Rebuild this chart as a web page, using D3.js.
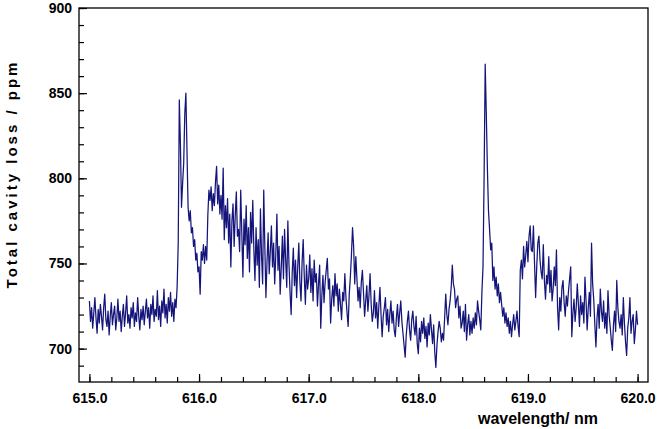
<!DOCTYPE html>
<html>
<head>
<meta charset="utf-8">
<script src="https://cdn.jsdelivr.net/npm/d3@7"></script>
<style>
body { margin: 0; background: #fff; }
svg { display: block; }
text { font-family: "Liberation Sans", Arial, sans-serif; font-weight: bold; fill: #000; }
</style>
</head>
<body>
<svg width="661" height="429"></svg>
<script>
// wavelength grid: 615.00 .. 620.00 nm, step 0.01 nm
var startWl = 615.0, stepWl = 0.01;

// total cavity loss (ppm) in 0.5 nm chunks
var loss615a = [728,716,724,712,721,730,718,709,723,715, 726,719,711,724,732,717,713,722,708,719,
	727,714,720,725,711,718,729,716,722,710, 719,726,713,721,731,715,720,712,724,718,
	727,713,721,716,730,719,711,723,717,725];
var loss615b = [714,722,729,718,724,712,726,720,731,716, 723,719,734,717,725,713,728,721,735,718,
	726,715,730,722,733,719,727,716,729,724, 736,762,846,820,783,797,809,838,850,816,
	783,775,781,768,771,760,764,752,756,745];
var loss616a = [748,732,757,752,761,750,760,752,778,793, 787,795,781,791,784,798,807,785,796,779,
	790,776,806,764,784,771,788,762,779,748, 775,785,760,778,792,766,770,757,793,768,
	742,776,761,784,753,771,745,780,762,787];
var loss616b = [758,740,771,749,764,736,782,755,738,793, 760,730,751,768,744,757,772,748,762,738,
	755,779,746,760,732,748,766,741,770,752, 736,775,750,733,720,745,759,737,752,730,
	748,762,739,728,751,764,742,726,749,735];
var loss617a = [741,755,733,747,728,752,739,744,725,738, 749,712,731,743,727,739,746,753,735,741,
	715,729,737,725,744,731,738,722,735,726, 717,733,728,744,730,721,713,732,742,755,
	771,760,738,754,741,728,736,724,739,746];
var loss617b = [733,719,728,737,722,731,744,726,716,721, 734,718,727,712,725,736,720,707,719,724,
	730,714,723,710,720,728,715,722,711,707, 718,726,713,721,728,716,709,702,695,708,
	716,722,711,705,717,722,713,708,719,703];
var loss618a = [697,712,704,716,709,718,706,713,701,715, 708,720,711,703,714,698,689,702,710,716,
	712,704,709,705,718,732,720,714,723,728, 736,749,738,735,724,729,731,718,725,712,
	715,722,710,726,705,714,720,708,716,709];
var loss618b = [718,712,721,714,728,722,717,711,733,748, 800,867,838,806,781,770,758,762,740,748,
	735,742,731,738,727,733,726,719,724,715, 721,713,718,709,716,707,714,720,711,716,
	722,713,707,746,752,741,760,748,755,763];
var loss619a = [751,766,772,758,757,772,750,730,748,762, 766,752,745,741,761,740,729,743,738,754,
	733,746,728,735,748,737,758,724,711,730, 722,736,740,727,719,731,725,734,741,748,
	707,721,729,716,724,738,726,713,731,720];
var loss619b = [727,715,742,728,711,724,733,719,762,738, 729,714,701,718,726,712,735,722,716,728,
	712,721,709,734,720,713,705,699,714,722, 710,740,724,716,712,720,708,730,715,704,
	696,712,718,730,709,716,720,703,711,722, 714];

var xTicks = [615.0, 616.0, 617.0, 618.0, 619.0, 620.0];
var yTicks = [700, 750, 800, 850, 900];

var lossAll = [].concat(loss615a, loss615b, loss616a, loss616b, loss617a,
	loss617b, loss618a, loss618b, loss619a, loss619b);
var data = lossAll.map(function (v, i) {
	return { wl: startWl + i * stepWl, loss: v };
});

var svgWidth = 661, svgHeight = 429;
var margin = { top: 8, right: 13, bottom: 47, left: 79 },
	width = svgWidth - margin.left - margin.right,
	height = svgHeight - margin.top - margin.bottom;

var xScale = d3.scaleLinear()
	.domain([614.905, 620.095])
	.range([0, width]);

var yScale = d3.scaleLinear()
	.domain([680.4, 900])
	.range([height, 0]);

var svg = d3.select("svg")
	.append("g").attr("transform", "translate(" + margin.left + "," + margin.top + ")");

// minor ticks first, majors on top
svg.append("g")
	.attr("transform", "translate(0," + height + ")")
	.call(d3.axisBottom(xScale).tickValues(d3.range(0, 26).map(function (k) { return 615 + k * 0.2; }))
		.tickSize(-5).tickFormat(""));
svg.append("g")
	.attr("class", "x axis")
	.attr("transform", "translate(0," + height + ")")
	.call(d3.axisBottom(xScale).tickValues(xTicks).tickSize(-8).tickPadding(11).tickFormat(d3.format(".1f")));

svg.append("g")
	.call(d3.axisLeft(yScale).tickValues(d3.range(690, 901, 10)).tickSize(-5).tickFormat(""));
svg.append("g")
	.attr("class", "y axis")
	.call(d3.axisLeft(yScale).tickValues(yTicks).tickSize(-8).tickPadding(7).tickFormat(d3.format("d")));

svg.selectAll(".domain").remove();
svg.selectAll(".tick line").attr("stroke", "#000").attr("stroke-width", 1.2);
svg.selectAll(".tick text")
	.style("font-size", "14px")
	.style("font-family", "'Liberation Sans', Arial, sans-serif")
	.style("font-weight", "bold")
	.attr("fill", "#000");

svg.append("rect")
	.attr("width", width)
	.attr("height", height)
	.attr("fill", "none")
	.attr("stroke", "#000")
	.attr("stroke-width", 1.3);

var line = d3.line()
	.x(function (d) { return xScale(d.wl); })
	.y(function (d) { return yScale(d.loss); });

svg.append("path")
	.datum(data)
	.attr("fill", "none")
	.attr("stroke", "#14147a")
	.attr("stroke-width", 1.25)
	.attr("stroke-linejoin", "round")
	.attr("d", line);

// axis titles
d3.select("svg").append("text")
	.attr("x", 598)
	.attr("y", 424)
	.style("text-anchor", "end")
	.style("font-size", "16px")
	.text("wavelength/ nm");

d3.select("svg").append("text")
	.attr("transform", "translate(17,174) rotate(-90)")
	.style("text-anchor", "middle")
	.style("font-size", "15px")
	.style("letter-spacing", "3px")
	.text("Total cavity loss / ppm");
</script>
</body>
</html>
